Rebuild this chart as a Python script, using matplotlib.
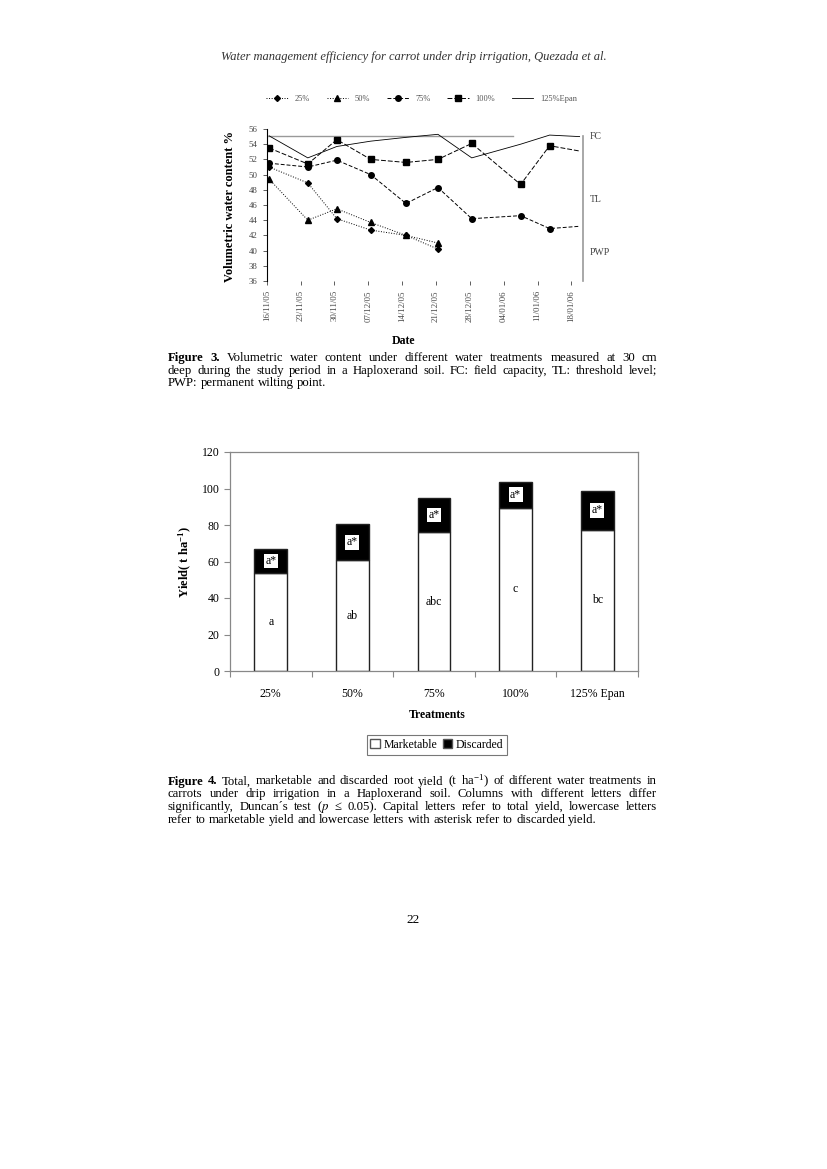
import matplotlib
matplotlib.use("Agg")
import matplotlib.pyplot as plt
import numpy as np

plt.rcParams['font.family'] = ['Liberation Serif', 'DejaVu Serif']
plt.rcParams['mathtext.fontset'] = 'stix'

# ---- Figure 3 data: volumetric water content (%) ----
days = [0.5, 8.5, 14.5, 21.5, 28.8, 35.4, 42.4, 52.5, 58.5, 64.7]   # days after 16/11/05
date_labels = ['16/11/05', '23/11/05', '30/11/05', '07/12/05', '14/12/05',
               '21/12/05', '28/12/05', '04/01/06', '11/01/06', '18/01/06']
vwc_25 = [51.0, 48.9, 44.2, 42.7, 42.0, 40.2]
vwc_50 = [49.4, 44.0, 45.5, 43.7, 42.0, 41.0]
vwc_75 = [51.5, 51.0, 51.9, 50.0, 46.2, 48.3, 44.2, 44.6, 42.9, 43.2]
vwc_100 = [53.5, 51.4, 54.6, 52.0, 51.6, 52.0, 54.1, 48.7, 53.8, 53.1]
vwc_125 = [55.1, 52.2, 53.7, 54.4, 54.9, 55.3, 52.2, 54.0, 55.2, 55.0]
fc_level = 55.1

# ---- Figure 4 data: yield (t/ha) ----
treatments = ['25%', '50%', '75%', '100%', '125% Epan']
marketable = [53.5, 60.7, 75.9, 89.4, 77.5]
discarded = [13.6, 19.6, 19.1, 14.2, 21.0]
mk_letters = ['a', 'ab', 'abc', 'c', 'bc']
dc_letters = ['a*', 'a*', 'a*', 'a*', 'a*']

W, H = 827, 1169
fig = plt.figure(figsize=(8.27, 11.69), dpi=100)


def fx(px):
    return px / W


def fy(py):
    return 1 - py / H


# ---------------- top chart ----------------
ax1 = fig.add_axes([fx(266.7), fy(281), fx(583 - 266.7), (281 - 129) / H])
lc = 'black'
ax1.plot(days[:6], vwc_25, linestyle=':', color=lc, lw=0.7, marker='D', ms=3, label='25%')
ax1.plot(days[:6], vwc_50, linestyle=':', color=lc, lw=0.7, marker='^', ms=4, label='50%')
ax1.plot(days, vwc_75, linestyle=(0, (4, 2)), color=lc, lw=0.7, marker='o', ms=4,
         markevery=list(range(9)), label='75%')
ax1.plot(days, vwc_100, linestyle=(0, (5, 2)), color=lc, lw=0.7, marker='s', ms=5,
         markevery=list(range(9)), label='100%')
ax1.plot(days, vwc_125, linestyle='-', color=lc, lw=0.6, label='125%Epan')
ax1.plot([0, 51], [fc_level, fc_level], color='#999999', lw=1.0, zorder=1)
ax1.plot([65.4, 65.4], [36, fc_level], color='#999999', lw=1.2, clip_on=False)

ax1.set_xlim(0, 65.4)
ax1.set_ylim(36, 56)
ax1.set_yticks(np.arange(36, 57, 2))
ax1.set_xticks(np.arange(0, 64, 7))
ax1.set_xticklabels(date_labels, rotation=90, fontsize=6.3, color='#444444')
ax1.tick_params(axis='y', labelsize=6.3, colors='#444444', length=3, width=0.6)
ax1.tick_params(axis='x', length=3, width=0.6, color='#444444')
for s in ['top', 'right', 'bottom']:
    ax1.spines[s].set_visible(False)
ax1.spines['left'].set_linewidth(0.8)
ax1.set_ylabel('Volumetric water content %', fontsize=9, fontweight='bold')
ax1.yaxis.set_label_coords(-0.097, 0.49)
ax1.set_xlabel('Date', fontsize=8.5, fontweight='bold')
ax1.xaxis.set_label_coords(0.434, -0.355)
for lab, yv in [('FC', 55.0), ('TL', 46.7), ('PWP', 39.8)]:
    ax1.text(1.02, (yv - 36) / 20, lab, transform=ax1.transAxes, fontsize=7,
             color='#444444', va='center', ha='left')
ax1.legend(loc='lower center', bbox_to_anchor=(0.49, 1.12), ncol=5, frameon=False,
           fontsize=6, handlelength=2.6, columnspacing=2.0, labelcolor='#555555')

# ---------------- bottom chart ----------------
ax2 = fig.add_axes([fx(230), fy(671), fx(638 - 230), (671 - 452) / H])
xpos = np.arange(len(treatments))
ax2.bar(xpos, marketable, width=0.4, color='white', edgecolor='#222222', lw=1.0,
        label='Marketable')
ax2.bar(xpos, discarded, width=0.4, bottom=marketable, color='black',
        edgecolor='#222222', lw=1.0, label='Discarded')
for i in range(len(treatments)):
    ax2.text(xpos[i], marketable[i] / 2, mk_letters[i], ha='center', va='center', fontsize=8.5)
    ax2.text(xpos[i], marketable[i] + discarded[i] / 2, dc_letters[i], ha='center',
             va='center', fontsize=8.5,
             bbox=dict(boxstyle='square,pad=0.12', fc='white', ec='none'))
ax2.set_xlim(-0.5, 4.5)
ax2.set_ylim(0, 120)
ax2.set_yticks(np.arange(0, 121, 20))
ax2.set_xticks(xpos)
ax2.set_xticklabels(treatments, fontsize=8.5)
ax2.set_xticks(np.arange(-0.5, 4.6, 1), minor=True)
ax2.tick_params(axis='x', which='major', length=0, pad=12)
ax2.tick_params(axis='x', which='minor', length=4, width=0.8, color='#888888')
ax2.tick_params(axis='y', labelsize=8.5, length=4, width=0.8, color='#888888')
for s in ax2.spines.values():
    s.set_color('#888888')
    s.set_linewidth(0.9)
ax2.set_ylabel('Yield( t ha$^{\\mathregular{-1}}$)', fontsize=9, fontweight='bold')
ax2.yaxis.set_label_coords(-0.088, 0.5)
ax2.set_xlabel('Treatments', fontsize=8.5, fontweight='bold')
ax2.xaxis.set_label_coords(0.507, -0.174)
leg = ax2.legend(loc='center', bbox_to_anchor=(0.507, -0.338), ncol=2, fontsize=8.5,
                 handlelength=0.8, handleheight=0.8, handletextpad=0.3, columnspacing=0.5,
                 fancybox=False, edgecolor='#555555', borderpad=0.3)
leg.get_frame().set_linewidth(0.8)
for h in leg.legend_handles:
    h.set_edgecolor('#555555')

# ---------------- page text ----------------
fig.text(0.5, fy(57), 'Water management efficiency for carrot under drip irrigation, Quezada et al.',
         ha='center', va='center', fontsize=9, style='italic', color='#333333')
fig.text(0.5, fy(920), '22', ha='center', va='center', fontsize=9.5)

renderer = fig.canvas.get_renderer()
CAP = 9.2


def put_line(text, y, x0, x1, justify, nbold=0):
    words = text.split(' ')
    objs = []
    for k, w in enumerate(words):
        t = fig.text(0, fy(y), w, fontsize=CAP, va='baseline', ha='left',
                     fontweight='bold' if k < nbold else 'normal')
        objs.append(t)
    widths = [t.get_window_extent(renderer).width for t in objs]
    space = CAP * 100 / 72 * 0.25
    if justify and len(objs) > 1:
        gap = max((x1 - x0 - sum(widths)) / (len(objs) - 1), space * 0.5)
    else:
        gap = space
    x = x0
    for t, wd in zip(objs, widths):
        t.set_x(fx(x))
        x += wd + gap


cap3 = ['Figure 3. Volumetric water content under different water treatments measured at 30 cm',
        'deep during the study period in a Haploxerand soil. FC: field capacity, TL: threshold level;',
        'PWP: permanent wilting point.']
cap4 = ['Figure 4. Total, marketable and discarded root yield (t ha$^{\\mathregular{-1}}$) of different water treatments in',
        'carrots under drip irrigation in a Haploxerand soil. Columns with different letters differ',
        'significantly, Duncan\u00b4s test ($p$ \u2264 0.05). Capital letters refer to total yield, lowercase letters',
        'refer to marketable yield and lowercase letters with asterisk refer to discarded yield.']

for i, line in enumerate(cap3):
    put_line(line, 361 + i * 12.5, 168, 657, i < len(cap3) - 1, nbold=2 if i == 0 else 0)
for i, line in enumerate(cap4):
    put_line(line, 784.5 + i * 12.7, 168, 657, i < len(cap4) - 1, nbold=2 if i == 0 else 0)

fig.savefig('out.png', dpi=100)
